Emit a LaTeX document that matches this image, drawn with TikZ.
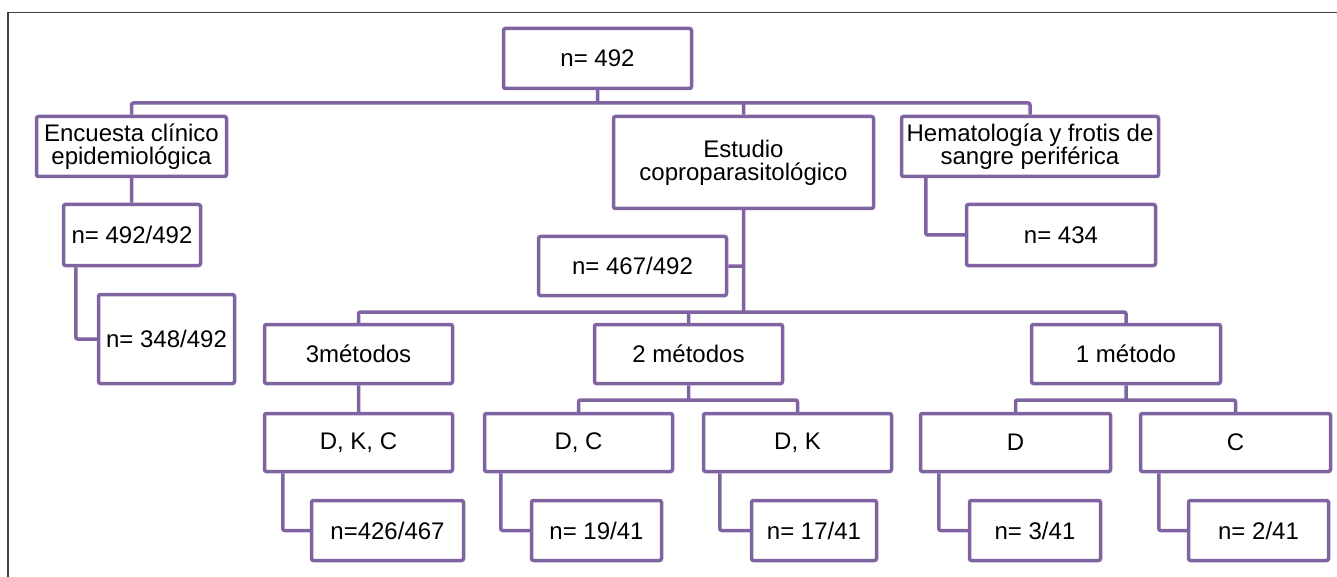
\documentclass[tikz,border=0pt]{standalone}
\usepackage{fontspec}
\setmainfont{Liberation Sans}
\definecolor{lila}{HTML}{8064A2}
\definecolor{marco}{HTML}{404040}
\tikzset{
    every picture/.style={
        x=.5pt,y=-.5pt,line width=1.75pt,
        box/.style={draw=lila,fill=white,align=center,inner sep=0pt,rounded corners=1pt,
            font=\fontsize{12}{11.5}\selectfont},
        link/.style={draw=lila,rounded corners=1pt}
    }
}

\begin{document}
\begin{tikzpicture}
    \useasboundingbox (0,0) rectangle (1337,577);
    \draw[marco,line width=.75pt] (8,577) -- (8,12.5) -- (1337,12.5);

    \node[box,minimum width=94pt,minimum height=30pt]    (0)  at (597.5,58.5)  {n= 492};
    \node[box,minimum width=95pt,minimum height=30pt]    (1)  at (131.5,146.5) {Encuesta clínico\\epidemiológica};
    \node[box,minimum width=130pt,minimum height=46pt]   (2)  at (743.5,162.5) {Estudio\\coproparasitológico};
    \node[box,minimum width=128.5pt,minimum height=30pt] (3)  at (1030,146.5)  {Hematología y frotis de\\sangre periférica};
    \node[box,minimum width=68.5pt,minimum height=30.5pt](4)  at (132,235)     {n= 492/492};
    \node[box,minimum width=68pt,minimum height=44.5pt]  (5)  at (166.5,339)   {n= 348/492};
    \node[box,minimum width=94.5pt,minimum height=30.5pt](6)  at (1061,235)    {n= 434};
    \node[box,minimum width=94pt,minimum height=29.5pt]  (7)  at (632.5,266)   {n= 467/492};
    \node[box,minimum width=94pt,minimum height=29.5pt]  (8)  at (358.5,354)   {3métodos};
    \node[box,minimum width=94pt,minimum height=29.5pt]  (9)  at (688.5,354)   {2 métodos};
    \node[box,minimum width=94.5pt,minimum height=29.5pt](10) at (1126,354)    {1 método};
    \node[box,minimum width=94pt,minimum height=29pt]    (11) at (358.5,442.5) {D, K, C};
    \node[box,minimum width=94pt,minimum height=29pt]    (12) at (578.5,442.5) {D, C};
    \node[box,minimum width=94pt,minimum height=29pt]    (13) at (797.5,442.5) {D, K};
    \node[box,minimum width=95pt,minimum height=29pt]    (14) at (1015.5,442.5){D};
    \node[box,minimum width=95pt,minimum height=29pt]    (15) at (1235.5,442.5){C};
    \node[box,minimum width=76pt,minimum height=30pt]    (16) at (387.5,530.5) {n=426/467};
    \node[box,minimum width=65pt,minimum height=30pt]    (17) at (596.5,530.5) {n= 19/41};
    \node[box,minimum width=62.5pt,minimum height=30pt]  (18) at (814,530.5)   {n= 17/41};
    \node[box,minimum width=65.5pt,minimum height=30pt]  (19) at (1035,530.5)  {n= 3/41};
    \node[box,minimum width=70pt,minimum height=30pt]    (20) at (1258.5,530.5){n= 2/41};

    \coordinate (b0) at (597.5,103);
    \coordinate (b1) at (743.5,312);
    \coordinate (b2) at (688.5,400);
    \coordinate (b3) at (1126,400);

    \path[link] (1.north) |- (b0) -| (3.north)
                (0) -- (b0)
                (2.north) -- (2.north |- b0)
                (1.south) -- (1.south |- 4.north)
                ([xshift=7pt]4.south west) |- (5.west)
                ([xshift=13pt]3.south west) |- (6.west)
                (2.south) -- (2.south |- b1)
                (7.east) -- (7.east -| b1)
                (8.north) |- (b1) -| (10.north)
                (9.north) -- (9.north |- b1)
                (8.south) -- (11.north)
                (9.south) -- (b2)
                (12.north) |- (b2) -| (13.north)
                (10.south) -- (b3)
                (14.north) |- (b3) -| (15.north)
                ([xshift=10pt]11.south west) |- (16.west)
                ([xshift=9pt]12.south west) |- (17.west)
                ([xshift=9pt]13.south west) |- (18.west)
                ([xshift=10pt]14.south west) |- (19.west)
                ([xshift=10pt]15.south west) |- (20.west);
\end{tikzpicture}
\end{document}
